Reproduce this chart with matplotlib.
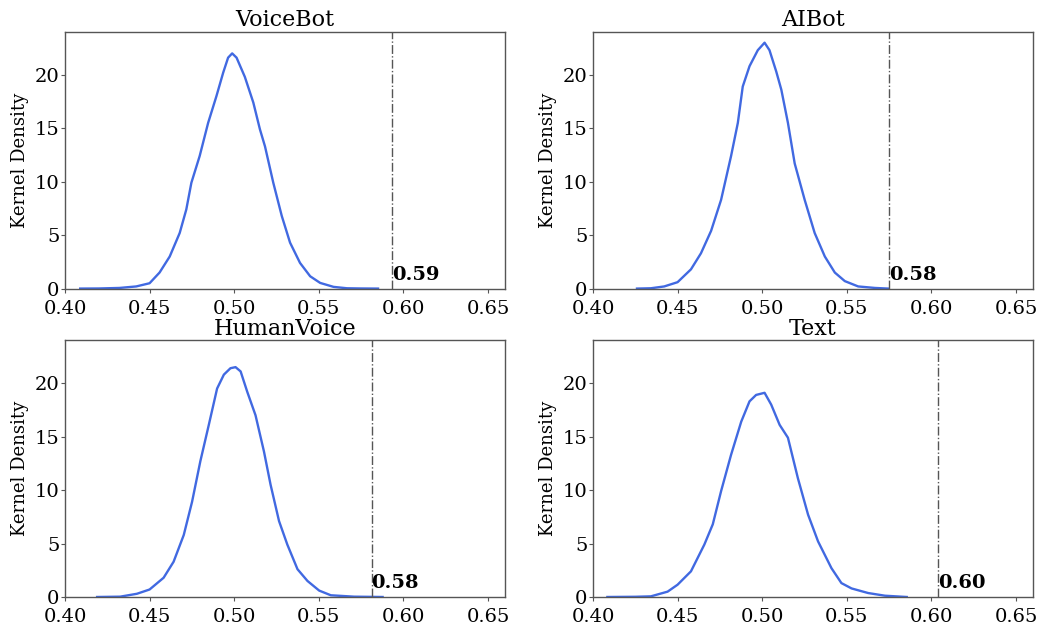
import matplotlib

matplotlib.use("Agg")
import matplotlib.pyplot as plt

plt.rcParams.update(
    {
        "font.family": ["DejaVu Serif"],
        "axes.edgecolor": "#555555",
        "axes.linewidth": 1.0,
        "xtick.color": "#555555",
        "ytick.color": "#555555",
        "xtick.labelcolor": "black",
        "ytick.labelcolor": "black",
    }
)

PANELS = ["VoiceBot", "AIBot", "HumanVoice", "Text"]

# kernel density curves, (x, density)
voicebot_x = [0.409, 0.42, 0.4322, 0.4421, 0.45, 0.4559, 0.4619, 0.4678, 0.4717,
              0.4747, 0.4796, 0.4846, 0.4895, 0.4935, 0.4964, 0.4988, 0.5014,
              0.5063, 0.5113, 0.5152, 0.5182, 0.5231, 0.5281, 0.533, 0.5389,
              0.5449, 0.5508, 0.5587, 0.5666, 0.575, 0.585]
voicebot_y = [0.0, 0.01, 0.06, 0.2, 0.5, 1.5, 3.0, 5.2, 7.4,
              9.9, 12.4, 15.5, 18.0, 20.2, 21.6, 22.0, 21.6,
              19.8, 17.4, 14.9, 13.3, 9.9, 6.8, 4.3, 2.4,
              1.15, 0.53, 0.16, 0.03, 0.01, 0.0]

aibot_x = [0.426, 0.4342, 0.4421, 0.45, 0.4579, 0.4638, 0.4698, 0.4757, 0.4816,
           0.4856, 0.4885, 0.4925, 0.4974, 0.5014, 0.5043, 0.5083, 0.5113, 0.5152,
           0.5192, 0.5251, 0.531, 0.537, 0.5429, 0.5488, 0.5567, 0.5666, 0.5745]
aibot_y = [0.0, 0.03, 0.2, 0.6, 1.8, 3.3, 5.4, 8.3, 12.4,
           15.5, 18.9, 20.8, 22.3, 23.0, 22.3, 20.3, 18.6, 15.5,
           11.7, 8.3, 5.2, 3.0, 1.5, 0.7, 0.2, 0.06, 0.0]

human_x = [0.419, 0.4326, 0.4425, 0.45, 0.4583, 0.4642, 0.4702, 0.4751, 0.48,
           0.485, 0.4899, 0.4939, 0.4978, 0.5008, 0.5038, 0.5077, 0.5126, 0.5176,
           0.5215, 0.5265, 0.5314, 0.5374, 0.5433, 0.5502, 0.5571, 0.5709, 0.5877]
human_y = [0.0, 0.03, 0.3, 0.7, 1.8, 3.3, 5.8, 8.9, 12.7,
           16.1, 19.5, 20.8, 21.4, 21.5, 21.1, 19.2, 17.0, 13.6,
           10.5, 7.1, 4.9, 2.6, 1.5, 0.6, 0.16, 0.03, 0.0]

text_x = [0.4085, 0.425, 0.4342, 0.4441, 0.45, 0.4579, 0.4658, 0.4708, 0.4757,
          0.4816, 0.4876, 0.4925, 0.4964, 0.5014, 0.5053, 0.5103, 0.5152, 0.5211,
          0.5271, 0.533, 0.5409, 0.5468, 0.5528, 0.5626, 0.5725, 0.5854]
text_y = [0.0, 0.02, 0.06, 0.5, 1.15, 2.4, 4.9, 6.8, 9.9,
          13.3, 16.4, 18.3, 18.9, 19.1, 18.0, 16.1, 14.9, 11.1,
          7.7, 5.2, 2.7, 1.3, 0.8, 0.37, 0.12, 0.0]

curves_x = [voicebot_x, aibot_x, human_x, text_x]
curves_y = [voicebot_y, aibot_y, human_y, text_y]

# threshold position and its printed label
thresholds = [0.5935, 0.575, 0.5812, 0.6038]
threshold_labels = ["0.59", "0.58", "0.58", "0.60"]

xticks = [0.40, 0.45, 0.50, 0.55, 0.60, 0.65]
yticks = [0, 5, 10, 15, 20]

fig, axes = plt.subplots(2, 2, figsize=(10.41, 6.30), dpi=100)
fig.subplots_adjust(left=0.0624, right=0.9923, bottom=0.0524, top=0.9492,
                    wspace=0.2, hspace=0.202)

for ax, name, xs, ys, thr, lab in zip(axes.flat, PANELS, curves_x, curves_y,
                                      thresholds, threshold_labels):
    ax.plot(xs, ys, color="#4169e1", linewidth=1.7, solid_joinstyle="round")
    ax.axvline(thr, color="#555555", linestyle="-.", linewidth=1.0)
    ax.text(thr, 0.45, lab, fontsize=14, fontweight="bold", ha="left", va="bottom")
    ax.set_xlim(0.40, 0.66)
    ax.set_ylim(0, 24)
    ax.set_xticks(xticks)
    ax.set_xticklabels([f"{t:.2f}" for t in xticks])
    ax.set_yticks(yticks)
    ax.tick_params(axis="y", labelsize=14, length=3, pad=1)
    ax.tick_params(axis="x", labelsize=14, length=3, pad=5)
    ax.set_ylabel("Kernel Density", fontsize=13, labelpad=4)
    ax.set_title(name, fontsize=16, pad=4)

fig.savefig("out.png", dpi=100)
